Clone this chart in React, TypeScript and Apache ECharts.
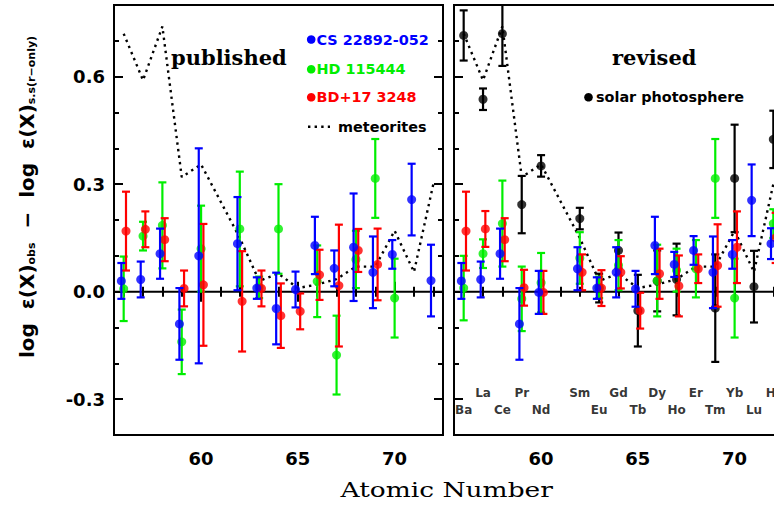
import React, { useEffect, useRef } from "react";
import * as echarts from "echarts";

// ---------- data ----------
const Z = [56, 57, 58, 59, 60, 62, 63, 64, 65, 66, 67, 68, 69, 70, 71, 72];
const SYMBOLS = ["Ba", "La", "Ce", "Pr", "Nd", "Sm", "Eu", "Gd", "Tb", "Dy", "Ho", "Er", "Tm", "Yb", "Lu", "Hf"];
const LABEL_ROW = [2, 1, 2, 1, 2, 1, 2, 1, 2, 1, 2, 1, 2, 1, 2, 1];

const METEORITES = [0.72, 0.59, 0.74, 0.32, 0.355, 0.15, 0.03, 0.05, 0.01, 0.02, 0.035, 0.07, 0.07, 0.17, 0.055, 0.30];

// published
const CS_PUB = [0.03, 0.034, 0.106, -0.09, 0.10, 0.134, 0.01, -0.047, 0.006, 0.129, 0.065, 0.124, 0.054, 0.104, 0.257, 0.031];
const CS_PUB_ERR = [0.05, 0.05, 0.07, 0.10, 0.30, 0.13, 0.03, 0.10, 0.05, 0.08, 0.05, 0.15, 0.10, 0.04, 0.10, 0.10];
const HD_PUB = [0.008, 0.155, 0.185, -0.14, 0.12, 0.175, 0.012, 0.175, null, 0.029, -0.177, 0.09, 0.316, -0.018, null, null];
const HD_PUB_ERR = [0.09, 0.04, 0.12, 0.09, 0.12, 0.16, 0.03, 0.125, null, 0.10, 0.11, 0.08, 0.11, 0.11, null, null];
const BD_PUB = [0.169, 0.174, 0.145, 0.009, 0.019, -0.027, 0.009, -0.067, -0.055, 0.047, 0.017, 0.115, 0.076, null, null, null];
const BD_PUB_ERR = [0.11, 0.05, 0.06, 0.05, 0.17, 0.14, 0.05, 0.09, 0.05, 0.07, 0.17, 0.06, 0.10, null, null, null];

// revised
const CS_REV = [0.03, 0.034, 0.106, -0.09, -0.002, 0.064, 0.01, 0.054, 0.008, 0.129, 0.076, 0.115, 0.054, 0.104, 0.255, 0.134];
const CS_REV_ERR = [0.05, 0.05, 0.07, 0.10, 0.06, 0.06, 0.03, 0.07, 0.05, 0.08, 0.035, 0.04, 0.10, 0.04, 0.10, 0.043];
const HD_REV = [0.01, 0.106, 0.19, -0.02, 0.025, 0.094, 0.012, 0.074, null, 0.031, 0.06, 0.064, 0.316, -0.018, null, 0.19];
const HD_REV_ERR = [0.09, 0.04, 0.12, 0.09, 0.083, 0.072, 0.03, 0.07, null, 0.10, 0.06, 0.08, 0.11, 0.11, null, 0.04];
const BD_REV = [0.169, 0.175, 0.145, 0.011, -0.002, 0.054, 0.01, 0.054, -0.053, 0.05, 0.016, 0.064, 0.073, 0.124, null, 0.15];
const BD_REV_ERR = [0.11, 0.05, 0.06, 0.05, 0.06, 0.05, 0.05, 0.045, 0.05, 0.07, 0.085, 0.04, 0.115, 0.10, null, 0.07];
const SOLAR = [0.715, 0.537, 0.72, 0.243, 0.351, 0.204, 0.01, 0.115, -0.053, 0.03, 0.034, null, -0.046, 0.316, 0.014, 0.425];
const SOLAR_ERR = [0.07, 0.03, 0.09, 0.08, 0.03, 0.03, 0.04, 0.05, 0.10, 0.085, 0.10, null, 0.15, 0.15, 0.10, 0.08];

// axes
const X_MIN = 55.5;
const X_MAX = 72.5;
const X_MAJOR = [60, 65, 70];
const X_MINOR = [56, 57, 58, 59, 61, 62, 63, 64, 66, 67, 68, 69, 71, 72];
const Y_MIN = -0.4;
const Y_MAX = 0.8;
const Y_MAJOR = [-0.3, 0, 0.3, 0.6];
const Y_MINOR = [-0.2, -0.1, 0.1, 0.2, 0.4, 0.5, 0.7];
const ROW_Y = { 1: -0.283, 2: -0.33 };

const BLUE = "#0000ff";
const GREEN = "#00ee00";
const RED = "#ff0000";
const BLACK = "#000000";
const SANS = "DejaVu Sans";
const SERIF = "DejaVu Serif";

function xAxes(grid: number) {
  const base = {
    type: "value", gridIndex: grid, min: X_MIN, max: X_MAX,
    splitLine: { show: false }, axisLine: { show: false },
  };
  const tick = (len: number, vals: number[]) => ({
    show: true, inside: true, length: len, customValues: vals,
    lineStyle: { color: BLACK, width: 2 },
  });
  return [
    {
      ...base, position: "bottom", axisTick: tick(10, X_MAJOR),
      axisLabel: {
        show: true, customValues: X_MAJOR, margin: 14, color: BLACK,
        fontFamily: SANS, fontWeight: "bold", fontSize: 18,
      },
    },
    { ...base, position: "bottom", axisTick: tick(5, X_MINOR), axisLabel: { show: false } },
    { ...base, position: "top", axisTick: tick(10, X_MAJOR), axisLabel: { show: false } },
    { ...base, position: "top", axisTick: tick(5, X_MINOR), axisLabel: { show: false } },
  ];
}

function yAxes(grid: number, labels: boolean) {
  const base = {
    type: "value", gridIndex: grid, min: Y_MIN, max: Y_MAX,
    splitLine: { show: false }, axisLine: { show: false },
  };
  const tick = (len: number, vals: number[]) => ({
    show: true, inside: true, length: len, customValues: vals,
    lineStyle: { color: BLACK, width: 2 },
  });
  return [
    {
      ...base, position: "left", axisTick: tick(9, Y_MAJOR),
      axisLabel: labels
        ? {
            show: true, customValues: Y_MAJOR, margin: 9, color: BLACK,
            fontFamily: SANS, fontWeight: "bold", fontSize: 18,
            formatter: (v: number) => (v < 0 ? "-" : "") + Math.abs(v).toFixed(1),
          }
        : { show: false },
    },
    { ...base, position: "left", axisTick: tick(5, Y_MINOR), axisLabel: { show: false } },
    { ...base, position: "right", axisTick: tick(9, Y_MAJOR), axisLabel: { show: false } },
    { ...base, position: "right", axisTick: tick(5, Y_MINOR), axisLabel: { show: false } },
  ];
}

function starSeries(panel: number, name: string, vals: (number | null)[], errs: (number | null)[], offset: number, color: string, z: number) {
  const ai = panel * 4;
  const pts: number[][] = [];
  Z.forEach((zz, i) => {
    const v = vals[i];
    const e = errs[i];
    if (v !== null && v !== undefined) pts.push([zz + offset, v, e === null ? 0 : (e as number)]);
  });
  return [
    {
      type: "custom", name, xAxisIndex: ai, yAxisIndex: ai, clip: true, z,
      encode: { x: 0, y: 1 },
      data: pts,
      renderItem: (params: any, api: any) => {
        const x = api.value(0), y = api.value(1), e = api.value(2);
        const p1 = api.coord([x, y + e]);
        const p2 = api.coord([x, y - e]);
        const hw = 4;
        const style = { stroke: color, lineWidth: 2.2 };
        return {
          type: "group",
          children: [
            { type: "line", shape: { x1: p1[0], y1: p1[1], x2: p2[0], y2: p2[1] }, style },
            { type: "line", shape: { x1: p1[0] - hw, y1: p1[1], x2: p1[0] + hw, y2: p1[1] }, style },
            { type: "line", shape: { x1: p2[0] - hw, y1: p2[1], x2: p2[0] + hw, y2: p2[1] }, style },
          ],
        };
      },
    },
    {
      type: "scatter", name, xAxisIndex: ai, yAxisIndex: ai, z: z + 0.5,
      symbol: "circle", symbolSize: 9, itemStyle: { color }, clip: true,
      data: pts.map((p) => [p[0], p[1]]),
    },
  ];
}

function panelSeries(panel: number) {
  const ai = panel * 4;
  return [
    {
      type: "line", xAxisIndex: ai, yAxisIndex: ai, z: 1, symbol: "none", silent: true,
      lineStyle: { color: BLACK, width: 2 },
      data: [[X_MIN, 0], [X_MAX, 0]],
    },
    {
      type: "line", xAxisIndex: ai, yAxisIndex: ai, z: 2, symbol: "none", silent: true,
      lineStyle: { color: BLACK, width: 2.4, type: [2.4, 4.2] },
      data: Z.map((zz, i) => [zz, METEORITES[i]]),
    },
  ];
}

export default function App() {
  const ref = useRef<HTMLDivElement>(null);
  useEffect(() => {
    if (!ref.current) return;
    const chart = echarts.init(ref.current, undefined, { renderer: "svg" });
    const legendText = (x: number, y: number, text: string, color: string, size = 14.4) => ({
      type: "text", x, y,
      style: { text, fill: color, font: `bold ${size}px "${SANS}"`, align: "left", verticalAlign: "middle" },
    });
    const option: any = {
      animation: false,
      backgroundColor: "#ffffff",
      grid: [
        { left: 114, top: 5, width: 329, height: 430, show: true, borderColor: BLACK, borderWidth: 2, backgroundColor: "transparent", outerBoundsMode: "none" },
        { left: 454, top: 5, width: 329, height: 430, show: true, borderColor: BLACK, borderWidth: 2, backgroundColor: "transparent", outerBoundsMode: "none" },
      ],
      xAxis: [...xAxes(0), ...xAxes(1)],
      yAxis: [...yAxes(0, true), ...yAxes(1, false)],
      series: [
        ...panelSeries(0),
        ...starSeries(0, "HD 115444", HD_PUB, HD_PUB_ERR, 0, GREEN, 3),
        ...starSeries(0, "BD+17 3248", BD_PUB, BD_PUB_ERR, 0.12, RED, 4),
        ...starSeries(0, "CS 22892-052", CS_PUB, CS_PUB_ERR, -0.12, BLUE, 5),
        ...panelSeries(1),
        ...starSeries(1, "solar photosphere", SOLAR, SOLAR_ERR, 0, BLACK, 3),
        ...starSeries(1, "HD 115444", HD_REV, HD_REV_ERR, 0, GREEN, 3.2),
        ...starSeries(1, "BD+17 3248", BD_REV, BD_REV_ERR, 0.12, RED, 4),
        ...starSeries(1, "CS 22892-052", CS_REV, CS_REV_ERR, -0.12, BLUE, 5),
        {
          type: "scatter", xAxisIndex: 4, yAxisIndex: 4, z: 6, symbolSize: 0, silent: true,
          data: Z.map((zz, i) => ({ value: [zz, ROW_Y[LABEL_ROW[i] as 1 | 2]], name: SYMBOLS[i] })),
          label: {
            show: true, position: "inside", formatter: "{b}", color: BLACK,
            fontFamily: SANS, fontWeight: "bold", fontSize: 12,
          },
        },
      ],
      graphic: [
        {
          type: "text", x: 27, y: 197, rotation: Math.PI / 2,
          style: {
            text: "{m|log  ε(X)}{s|obs}{m|  −  log  ε(X)}{s|s.s(r−only)}",
            align: "center", verticalAlign: "middle",
            rich: {
              m: { fontFamily: SANS, fontWeight: "bold", fontSize: 20, lineHeight: 20, verticalAlign: "top", fill: BLACK },
              s: { fontFamily: SANS, fontWeight: "bold", fontSize: 11, lineHeight: 12, padding: [12, 0, 0, 0], verticalAlign: "bottom", fill: BLACK },
            },
          },
        },
        {
          type: "text", x: 446.7, y: 490, scaleX: 1.26,
          style: { text: "Atomic Number", fill: BLACK, font: `21px "${SERIF}"`, align: "center", verticalAlign: "middle" },
        },
        {
          type: "text", x: 171, y: 57,
          style: { text: "published", fill: BLACK, font: `bold 21px "${SERIF}"`, align: "left", verticalAlign: "middle" },
        },
        {
          type: "text", x: 612, y: 57,
          style: { text: "revised", fill: BLACK, font: `bold 21px "${SERIF}"`, align: "left", verticalAlign: "middle" },
        },
        { type: "circle", shape: { cx: 311.2, cy: 39.5, r: 4.3 }, style: { fill: BLUE } },
        legendText(316.5, 39.5, "CS 22892-052", BLUE),
        { type: "circle", shape: { cx: 311.2, cy: 69.3, r: 4.3 }, style: { fill: GREEN } },
        legendText(316.5, 69.3, "HD 115444", GREEN),
        { type: "circle", shape: { cx: 311.2, cy: 97.3, r: 4.3 }, style: { fill: RED } },
        legendText(316.5, 97.3, "BD+17 3248", RED),
        {
          type: "line", shape: { x1: 308, y1: 126.7, x2: 330, y2: 126.7 },
          style: { stroke: BLACK, lineWidth: 2.4, lineDash: [2.4, 4.2] },
        },
        legendText(338, 126.7, "meteorites", BLACK),
        { type: "circle", shape: { cx: 588.5, cy: 97.3, r: 4.3 }, style: { fill: BLACK } },
        legendText(596, 97.3, "solar photosphere", BLACK),
      ],
    };
    chart.setOption(option);
    return () => chart.dispose();
  }, []);
  return (
    <div style={{ position: "fixed", left: 0, top: 0, width: 774, height: 514, overflow: "hidden", background: "#fff" }}>
      <div ref={ref} style={{ position: "absolute", left: 0, top: 0, width: 800, height: 514 }} />
    </div>
  );
}
